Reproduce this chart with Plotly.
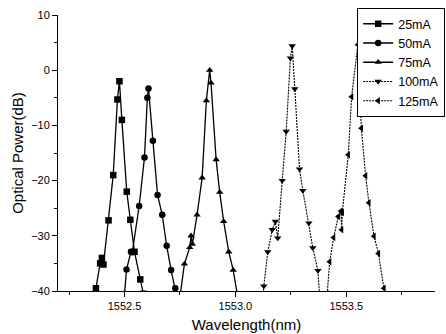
import plotly.graph_objects as go

# 25 mA
wl_25 = [1552.345, 1552.371, 1552.390, 1552.398, 1552.405, 1552.428, 1552.449, 1552.468, 1552.477,
         1552.488, 1552.510, 1552.526, 1552.545, 1552.571, 1552.585]
p_25 = [-42.0, -39.5, -35.0, -34.0, -35.2, -27.2, -19.0, -5.3, -2.0,
        -9.0, -22.0, -27.1, -32.9, -37.9, -40.5]
# 50 mA
wl_50 = [1552.500, 1552.509, 1552.529, 1552.535, 1552.566, 1552.590, 1552.603, 1552.608, 1552.628,
         1552.649, 1552.670, 1552.690, 1552.710, 1552.729, 1552.735]
p_50 = [-40.5, -36.1, -32.9, -33.0, -24.6, -15.8, -5.0, -3.3, -12.8,
        -22.6, -26.2, -31.8, -36.2, -39.5, -41.0]
# 75 mA
wl_75 = [1552.752, 1552.770, 1552.794, 1552.800, 1552.806, 1552.827, 1552.850, 1552.869, 1552.884,
         1552.890, 1552.913, 1552.929, 1552.947, 1552.970, 1552.990, 1553.008]
p_75 = [-40.5, -35.1, -32.1, -30.0, -31.5, -26.2, -19.5, -5.5, 0.0,
        -2.3, -16.2, -22.1, -27.4, -32.9, -36.2, -40.5]
# 100 mA
wl_100 = [1553.125, 1553.128, 1553.146, 1553.166, 1553.180, 1553.191, 1553.211, 1553.229, 1553.248,
          1553.256, 1553.268, 1553.289, 1553.304, 1553.331, 1553.349, 1553.372, 1553.379]
p_100 = [-41.0, -39.1, -32.9, -28.9, -27.4, -30.4, -20.0, -11.1, 2.2,
         4.4, -3.4, -17.9, -21.8, -27.7, -32.2, -36.3, -40.5]
# 125 mA
wl_125 = [1553.414, 1553.425, 1553.443, 1553.464, 1553.476, 1553.479, 1553.482, 1553.509, 1553.524,
          1553.552, 1553.568, 1553.587, 1553.602, 1553.625, 1553.645, 1553.670, 1553.675]
p_125 = [-40.5, -34.7, -30.3, -26.5, -25.5, -28.9, -25.8, -15.3, -4.8,
         4.6, -10.5, -19.1, -24.0, -30.1, -33.2, -39.5, -41.0]

labels = ["25mA", "50mA", "75mA", "100mA", "125mA"]
symbols = ["square", "circle", "triangle-up", "triangle-down", "triangle-left"]
dashes = ["solid", "solid", "solid", "2px,1px", "2px,1px"]
widths = [1.3, 1.3, 1.3, 1.1, 1.1]
series_x = [wl_25, wl_50, wl_75, wl_100, wl_125]
series_y = [p_25, p_50, p_75, p_100, p_125]

fig = go.Figure()
for xs, ys, lab, sym, d, w in zip(series_x, series_y, labels, symbols, dashes, widths):
    fig.add_trace(go.Scatter(
        x=xs, y=ys, name=lab, mode="lines+markers",
        line=dict(color="black", width=w, dash=d),
        marker=dict(symbol=sym, size=6.5, color="black"),
        cliponaxis=True,
    ))

fig.update_layout(
    width=446, height=334,
    margin=dict(l=58, r=11, t=15, b=43, autoexpand=False),
    paper_bgcolor="white", plot_bgcolor="white",
    font=dict(family="Liberation Sans, Arial, sans-serif", color="black", size=11),
    legend=dict(
        x=1.027, y=1.025, xanchor="right", yanchor="top",
        bordercolor="black", borderwidth=1, bgcolor="white",
        font=dict(size=12.5), tracegroupgap=0, itemwidth=30,
    ),
    showlegend=True,
)
fig.update_xaxes(
    range=[1552.2, 1553.9], showgrid=False, zeroline=False,
    showline=True, linecolor="black", linewidth=1,
    tickmode="array", tickvals=[1552.5, 1553.0, 1553.5],
    ticktext=["1552.5", "1553.0", "1553.5"],
    ticks="outside", ticklen=5, tickcolor="black",
    minor=dict(tickvals=[1552.25, 1552.75, 1553.25, 1553.75], ticks="outside", ticklen=3, tickcolor="black"),
    title=dict(text="Wavelength(nm)", font=dict(size=15), standoff=8),
)
fig.update_yaxes(
    range=[-40, 10], showgrid=False, zeroline=False,
    showline=True, linecolor="black", linewidth=1,
    tickvals=[-40, -30, -20, -10, 0, 10],
    ticks="outside", ticklen=5, tickcolor="black",
    minor=dict(tickvals=[-35, -25, -15, -5, 5], ticks="outside", ticklen=3, tickcolor="black"),
    title=dict(text="Optical Power(dB)", font=dict(size=15), standoff=3),
)

fig.write_html("out.html")
